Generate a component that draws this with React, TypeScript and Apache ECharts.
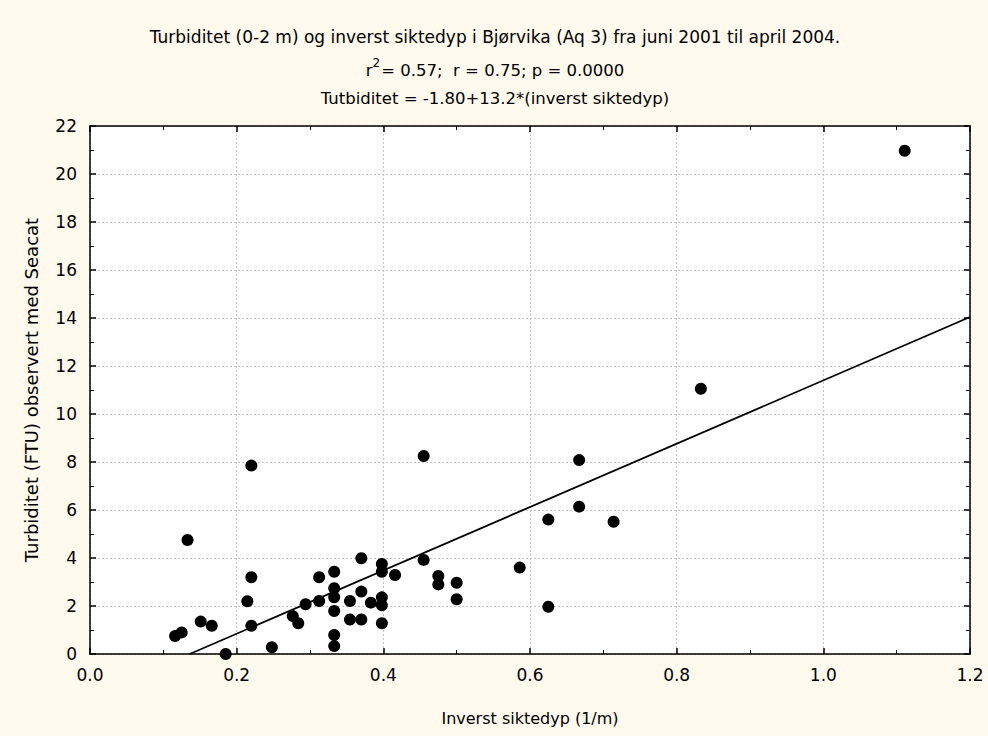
import React, { useEffect, useRef } from "react";
import * as echarts from "echarts";

// Inverst siktedyp (1/m)
const xValues = [
  0.116, 0.125, 0.133, 0.151, 0.166, 0.185, 0.2145, 0.22, 0.22, 0.22,
  0.248, 0.2765, 0.284, 0.294, 0.3125, 0.3125, 0.333, 0.333, 0.333, 0.333,
  0.333, 0.333, 0.3545, 0.3545, 0.37, 0.37, 0.37, 0.383, 0.398, 0.398,
  0.398, 0.398, 0.398, 0.416, 0.455, 0.455, 0.475, 0.475, 0.5, 0.5,
  0.586, 0.625, 0.625, 0.667, 0.667, 0.714, 0.833, 1.111,
];
// Turbiditet (FTU)
const yValues = [
  0.75, 0.9, 4.75, 1.35, 1.18, 0.0, 2.2, 3.2, 1.18, 7.85,
  0.28, 1.58, 1.28, 2.07, 2.21, 3.2, 3.43, 2.74, 2.36, 1.79,
  0.79, 0.33, 2.21, 1.44, 3.99, 2.6, 1.44, 2.14, 3.75, 3.43,
  2.36, 2.03, 1.28, 3.29, 8.25, 3.92, 3.25, 2.9, 2.97, 2.28,
  3.6, 1.97, 5.6, 8.08, 6.14, 5.51, 11.05, 20.97,
];
// Regression line endpoints (y = -1.80 + 13.2x, clipped at y = 0)
const fitX = [0.136, 1.2];
const fitY = [0, 14.04];

const titleLines = [
  "Turbiditet (0-2 m) og inverst siktedyp i Bjørvika (Aq 3) fra juni 2001 til april 2004.",
  "{t|r}{sup|2}{t|= 0.57;  r = 0.75; p = 0.0000}",
  "Tutbiditet = -1.80+13.2*(inverst siktedyp)",
];
const xName = "Inverst siktedyp (1/m)";
const yName = "Turbiditet (FTU) observert med Seacat";

const FONT = "'DejaVu Sans', 'Liberation Sans', Arial, sans-serif";

export default function App() {
  const ref = useRef<HTMLDivElement>(null);
  useEffect(() => {
    document.body.style.margin = "0";
    const chart = echarts.init(ref.current!, null, { renderer: "svg" });
    const points = xValues.map((x, i) => [x, yValues[i]]);
    const fit = fitX.map((x, i) => [x, fitY[i]]);
    const gridLine = { show: true, lineStyle: { color: "#c4c4c4", width: 1, type: [2, 2] as any } };
    const common = {
      min: 0,
      axisLine: { show: true, onZero: false, lineStyle: { color: "#000", width: 1.5 } },
    };
    const tick = { show: true, inside: true, length: 6, lineStyle: { color: "#000", width: 1.5 } };
    const minor = { show: true, splitNumber: 2, length: 4, lineStyle: { color: "#000", width: 1 } };
    chart.setOption({
      animation: false,
      backgroundColor: "#FFF9EE",
      textStyle: { fontFamily: FONT, color: "#000" },
      grid: {
        left: 90,
        right: 18,
        top: 126,
        bottom: 82,
        show: true,
        backgroundColor: "#ffffff",
        borderWidth: 0,
        outerBoundsMode: "none",
      } as any,
      graphic: [
        {
          type: "text",
          x: 495,
          y: 37,
          style: {
            text: titleLines[0],
            fontSize: 17,
            fontFamily: FONT,
            fill: "#000",
            align: "center",
            verticalAlign: "middle",
          },
        },
        {
          type: "text",
          x: 495,
          y: 67,
          style: {
            text: titleLines[1],
            fontFamily: FONT,
            fill: "#000",
            align: "center",
            verticalAlign: "middle",
            rich: {
              t: { fontSize: 16.5, fontFamily: FONT, lineHeight: 24, verticalAlign: "bottom" },
              sup: { fontSize: 12, fontFamily: FONT, lineHeight: 24, verticalAlign: "top", padding: [2, 1, 0, 0] },
            },
          },
        },
        {
          type: "text",
          x: 495,
          y: 98,
          style: {
            text: titleLines[2],
            fontSize: 16.5,
            fontFamily: FONT,
            fill: "#000",
            align: "center",
            verticalAlign: "middle",
          },
        },
      ],
      xAxis: [
        {
          ...common,
          type: "value",
          max: 1.2,
          interval: 0.2,
          position: "bottom",
          name: xName,
          nameLocation: "middle",
          nameGap: 56,
          nameTextStyle: { fontSize: 16, color: "#000", fontFamily: FONT },
          axisTick: tick,
          minorTick: minor,
          axisLabel: {
            fontSize: 17,
            color: "#000",
            margin: 12,
            fontFamily: FONT,
            formatter: (v: number) => v.toFixed(1),
          },
          splitLine: gridLine,
        },
        {
          ...common,
          type: "value",
          max: 1.2,
          interval: 0.2,
          position: "top",
          axisTick: tick,
          minorTick: minor,
          axisLabel: { show: false },
          splitLine: { show: false },
        },
      ],
      yAxis: [
        {
          ...common,
          type: "value",
          max: 22,
          interval: 2,
          position: "left",
          name: yName,
          nameLocation: "middle",
          nameGap: 50,
          nameRotate: 90,
          nameTextStyle: { fontSize: 18, color: "#000", fontFamily: FONT },
          axisTick: tick,
          minorTick: minor,
          axisLabel: { fontSize: 17, color: "#000", margin: 13, fontFamily: FONT },
          splitLine: gridLine,
        },
        {
          ...common,
          type: "value",
          max: 22,
          interval: 2,
          position: "right",
          axisTick: tick,
          minorTick: minor,
          axisLabel: { show: false },
          splitLine: { show: false },
        },
      ],
      series: [
        {
          type: "line",
          data: fit,
          xAxisIndex: 0,
          yAxisIndex: 0,
          showSymbol: false,
          symbol: "none",
          lineStyle: { color: "#000", width: 1.8 },
          silent: true,
          z: 3,
        },
        {
          type: "scatter",
          data: points,
          xAxisIndex: 0,
          yAxisIndex: 0,
          symbol: "circle",
          symbolSize: 12,
          itemStyle: { color: "#000", opacity: 1 },
          z: 4,
        },
      ],
    });
    return () => chart.dispose();
  }, []);
  return <div ref={ref} style={{ width: 988, height: 736 }} />;
}
